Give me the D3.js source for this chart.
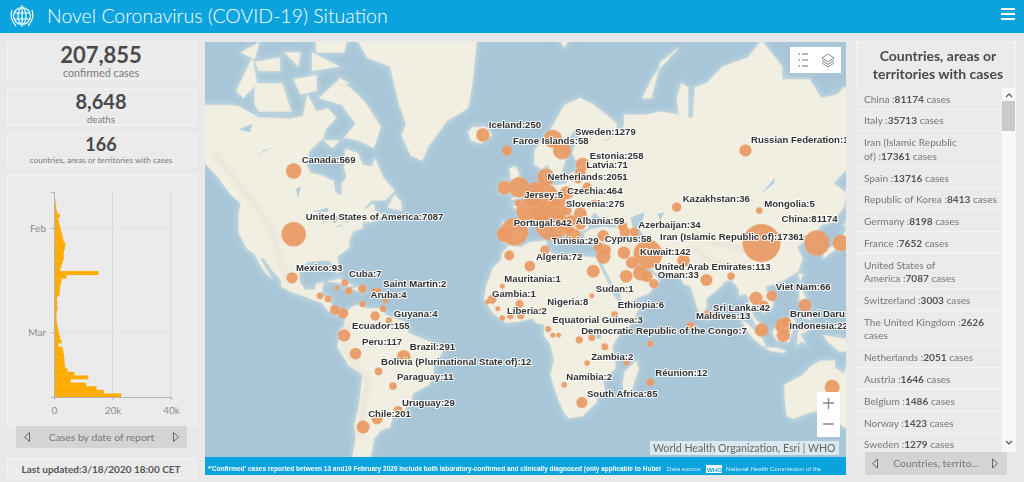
<!DOCTYPE html>
<html>
<head>
<meta charset="utf-8">
<title>Novel Coronavirus (COVID-19) Situation</title>
<script src="https://cdnjs.cloudflare.com/ajax/libs/d3/7.8.5/d3.min.js"></script>
<style>
  html, body { margin: 0; padding: 0; background: #e9e9e9; overflow: hidden; }
  svg { display: block; font-family: Lato, "Open Sans", sans-serif; }
  .mapLabel { font-family: "Liberation Sans", Arial, sans-serif; font-weight: 700; font-size: 9.6px; fill: #333;
    stroke: #fff; stroke-opacity: .85; stroke-width: 2.2px; paint-order: stroke; stroke-linejoin: round; }
</style>
</head>
<body>
<div id="app"></div>
<script>
const pageTitle = 'Novel Coronavirus (COVID-19) Situation'
const summaryValues = ['207,855', '8,648', '166']
const summaryLabels = ['confirmed cases', 'deaths', 'countries, areas or territories with cases']

// new cases per day of report, 22 Jan to 18 Mar 2020
const firstReportDay = new Date(2020, 0, 22)
const dailyCases = [
  300, 300, 500, 700, 800, 1100, 2000, 1500, 1700, 2000,
  2400, 2700, 3000, 3300, 3900, 3700, 3400, 3300, 3300, 2900, 2600, 2100, 15200, 4300, 2600, 2300, 2100, 2000, 1800,
  1000, 1100, 1100, 1200, 900, 800, 900, 1100, 1300, 1500,
  1800, 2100, 2600, 1500, 3000, 3200, 3400, 3600, 3600, 3800, 4600, 7000, 11700, 5800, 11000, 14500, 17000, 23000
]
const caseTicks = [0, 20000, 40000]

// [name, cases, lon, lat] for countries with a label on the map
const labelledCountries = [
  ['Iceland', 250, -17.5, 65], ['Sweden', 1279, 17, 62], ['Faroe Islands', 58, -7, 62],
  ['Russian Federation', 147, 97, 62], ['Estonia', 258, 26, 59], ['Latvia', 71, 25, 57],
  ['Netherlands', 2051, 5.5, 52.3], ['Canada', 569, -100, 57.5], ['United States of America', 7087, -100, 39.5],
  ['Jersey', 5, -2.1, 49.2], ['Czechia', 464, 15.3, 49.8], ['Slovenia', 275, 14.8, 46.1],
  ['Portugal', 642, -8, 39.5], ['Albania', 59, 20, 41], ['Azerbaijan', 34, 48.5, 40.2],
  ['Cyprus', 58, 33, 35], ['Iran (Islamic Republic of)', 17361, 54.5, 32.5], ['Tunisia', 29, 9.5, 34],
  ['Kazakhstan', 36, 67, 48], ['Mongolia', 5, 103, 47], ['China', 81174, 104, 36.5],
  ['Kuwait', 142, 47.5, 29.3], ['Algeria', 72, 3, 28], ['United Arab Emirates', 113, 54, 24],
  ['Oman', 33, 57, 21], ['Mexico', 93, -100.7, 23.4], ['Cuba', 7, -77.6, 21.4],
  ['Saint Martin', 2, -63, 18], ['Aruba', 4, -70, 12.5], ['Guyana', 4, -58.5, 5.5],
  ['Ecuador', 155, -78, -1], ['Peru', 117, -73, -9], ['Brazil', 291, -52, -10.4],
  ['Bolivia (Plurinational State of)', 12, -63, -16.5], ['Paraguay', 11, -56.7, -22.5], ['Uruguay', 29, -54.5, -32],
  ['Chile', 201, -69.7, -37.9], ['Mauritania', 1, -9, 20], ['Gambia', 1, -15.5, 13.4],
  ['Liberia', 2, -9, 6.5], ['Sudan', 1, 30, 16], ['Nigeria', 8, 8, 9.5],
  ['Ethiopia', 6, 40, 8], ['Equatorial Guinea', 3, 11, 1.7], ['Democratic Republic of the Congo', 7, 24.5, -3],
  ['Maldives', 13, 73, 3.2], ['Sri Lanka', 42, 80.7, 7.7], ['Viet Nam', 66, 108.5, 16],
  ['Brunei Darussalam', 68, 114.7, 4.5], ['Indonesia', 227, 113.5, -1], ['Zambia', 2, 28, -13],
  ['Namibia', 2, 18, -22], ['Réunion', 12, 55.5, -21], ['South Africa', 85, 25.7, -29]
]

// label offset from its bubble, [dx, dy]
const labelOffsets = {
  'Iceland': [6, -10], 'Sweden': [13, -19], 'Faroe Islands': [6, -10], 'Russian Federation': [5.5, -11],
  'Estonia': [7, -9], 'Latvia': [6, -8], 'Netherlands': [12, -15], 'Canada': [8, -11],
  'United States of America': [12, -18], 'Jersey': [6, -8], 'Czechia': [9, -10], 'Slovenia': [9, -10],
  'Portugal': [9, -12], 'Albania': [7, -9], 'Azerbaijan': [4, -8], 'Cyprus': [6, -9],
  'Iran (Islamic Republic of)': [12, -17], 'Tunisia': [7, -9], 'Kazakhstan': [6, -9], 'Mongolia': [5, -7],
  'China': [20, -24], 'Kuwait': [8, -11], 'Algeria': [6, -9], 'United Arab Emirates': [8, -10],
  'Oman': [4, -9], 'Mexico': [4, -10], 'Cuba': [4, -9], 'Saint Martin': [4.5, -7],
  'Aruba': [8, -9], 'Guyana': [5, -7], 'Ecuador': [8, -10], 'Peru': [6.5, -12],
  'Brazil': [6, -10], 'Bolivia (Plurinational State of)': [2.5, -9.5], 'Paraguay': [4, -9], 'Uruguay': [4, -7.5],
  'Chile': [5, -13], 'Mauritania': [2, -8], 'Gambia': [4.6, -8], 'Liberia': [4.6, -7],
  'Sudan': [4, -7], 'Nigeria': [6, -9], 'Ethiopia': [3, -10], 'Equatorial Guinea': [4, -9],
  'Democratic Republic of the Congo': [2, -9], 'Maldives': [5.5, -10], 'Sri Lanka': [5, -8], 'Viet Nam': [4, -9],
  'Brunei Darussalam': [4, -9], 'Indonesia': [6, -10], 'Zambia': [4, -6], 'Namibia': [2, -8.5],
  'Réunion': [5, -10], 'South Africa': [5, -9]
}

// bubbles with no label, cases
const otherCountries = [
  ['Italy', 35713, 12.5, 42.8], ['Spain', 13716, -3.7, 40.3], ['Republic of Korea', 8413, 128.2, 36.5],
  ['Germany', 8198, 10, 51], ['France', 7652, 2.5, 47], ['Switzerland', 3003, 8, 47],
  ['The United Kingdom', 2626, -1.7, 53.5], ['Austria', 1646, 14, 47.5], ['Belgium', 1486, 4.5, 50.6],
  ['Norway', 1423, 13, 64.3], ['Denmark', 1057, 10, 56], ['Japan', 829, 138.6, 36.5],
  ['Malaysia', 673, 113.5, 3], ['Qatar', 442, 51.2, 25.3], ['Australia', 452, 134.8, -23],
  ['Greece', 387, 22, 39], ['Israel', 337, 35, 31.5], ['Ireland', 292, -8, 53.4],
  ['Poland', 238, 19, 52], ['Thailand', 212, 101.6, 15], ['Romania', 217, 25, 46],
  ['Saudi Arabia', 171, 45, 24], ['India', 137, 80, 22.5], ['Singapore', 266, 104, 1.3],
  ['Philippines', 202, 123, 12], ['Egypt', 196, 30.6, 26], ['Iraq', 164, 44, 33],
  ['Lebanon', 120, 35.8, 33.9], ['Turkey', 98, 35, 39], ['Pakistan', 183, 70, 30],
  ['Morocco', 44, -6, 32], ['Hungary', 50, 19, 47], ['Croatia', 57, 16, 45.5],
  ['Serbia', 72, 21, 44], ['Bulgaria', 67, 25, 42.7], ['Armenia', 78, 44.5, 40.2],
  ['Georgia', 34, 43.5, 42], ['Belarus', 36, 28, 53.5], ['Ukraine', 14, 31, 49],
  ['Lithuania', 17, 24, 55.5], ['Cambodia', 33, 105, 12], ['Bangladesh', 10, 90.7, 24],
  ['Senegal', 27, -13.5, 14.5], ['Burkina Faso', 15, -1.5, 12.5], ['Guinea', 1, -11, 10.5],
  ['Côte d\'Ivoire', 6, -5.5, 7.5], ['Ghana', 7, -1, 7.5], ['Gabon', 1, 13, -1],
  ['Congo', 1, 15.5, -1], ['Rwanda', 7, 30, -2], ['United Republic of Tanzania', 6, 35.7, -6],
  ['Seychelles', 4, 55.5, -4.7], ['Mayotte', 3, 45, -12.8], ['Argentina', 79, -63.6, -35],
  ['Venezuela', 33, -64.5, 7.4], ['Panama', 69, -78.5, 8.6], ['Costa Rica', 50, -82, 10],
  ['Honduras', 6, -85, 14.7], ['Guatemala', 6, -88.5, 16], ['Cayman Islands', 1, -81.2, 19.3],
  ['Jamaica', 10, -76, 18], ['Dominican Republic', 21, -70, 19], ['Antigua and Barbuda', 1, -65, 18.3],
  ['Trinidad and Tobago', 5, -61, 10.5], ['Barbados', 2, -60, 14]
]

// side list
const listNames = ['China', 'Italy', 'Iran (Islamic Republic of)', 'Spain', 'Republic of Korea', 'Germany', 'France',
  'United States of America', 'Switzerland', 'The United Kingdom', 'Netherlands', 'Austria', 'Belgium', 'Norway', 'Sweden']
const listCases = [81174, 35713, 17361, 13716, 8413, 8198, 7652, 7087, 3003, 2626, 2051, 1646, 1486, 1423, 1279]
// how many words stay on the first line of a wrapped row
const listWraps = { 'Iran (Islamic Republic of)': 3, 'United States of America': 3, 'The United Kingdom': 4 }

// rough coastlines, [lon, lat]
const landShapes = [
  // north america
  [[-170,65],[-166,68],[-156,71],[-141,70],[-128,70],[-124,69.8],[-115,68],[-108,68],[-102,67.8],[-96,68.3],[-94,71.5],[-90,69],[-85,69.5],[-81.5,68],[-86,66],[-87,64.5],[-93,62],[-94.5,59],[-92.5,57],[-88,56.5],[-82.5,55],[-82,52.5],[-80,51.3],[-79,52],[-79,54.5],[-77,56],[-78,58.5],[-77.5,62.3],[-72,61.5],[-70,59],[-66,58.5],[-64.5,60.3],[-61,56],[-56,52.5],[-60,50],[-66,50],[-70,47],[-65,49],[-64.5,47],[-61,45.5],[-66,43.5],[-70,43.5],[-70,41.5],[-74,40.5],[-76,37],[-75.5,35],[-81,31.5],[-80,26],[-81,25],[-82.7,28],[-84,30],[-89,30],[-94,29.5],[-97.5,27],[-97.5,22],[-95,18.5],[-91,18.5],[-90,21],[-87,21.5],[-88,16],[-84,15.5],[-83.5,11],[-81.5,9],[-79.5,9.5],[-77.5,8.5],[-78,7.5],[-80,7.5],[-83,8.5],[-85.5,10],[-87.5,13],[-92,14.5],[-96,16],[-101,17.5],[-105.5,20],[-105.5,22.5],[-109,26],[-113,31],[-114.7,31],[-112,27],[-109.5,23],[-112,25],[-115,29],[-117,32.5],[-120.5,34.5],[-124,40],[-124,46],[-123,49],[-128,52],[-133,56],[-139,59.5],[-146,60.5],[-152,59],[-158,56.5],[-165,54.5],[-158,58.5],[-165,61],[-165,64]],
  // arctic islands
  [[-80,73.5],[-72,71.5],[-68,70],[-62,66.5],[-65,62.5],[-72,64],[-78,64.5],[-73,67],[-79,70],[-89,71]],
  [[-117,73],[-105,73],[-101,69],[-115,69],[-117,70]],
  [[-125,72],[-118,76],[-116,73],[-122,71]],
  [[-90,76.5],[-78,76.5],[-75,79],[-62,82.5],[-75,83],[-92,81.5]],
  [[-92,76.5],[-80,75],[-92,74.5]],
  [[-117,75.5],[-106,76],[-106,74.5],[-115,74.5]],
  [[-100,73.5],[-90,74],[-90,72],[-97,71.5]],
  [[-87,64],[-80,64],[-83,62.5]],
  [[-123,76.5],[-115,77.5],[-117,75.8]],
  [[-104,76.5],[-97,76.5],[-98,75]],
  [[-96,79.5],[-88,81],[-86,78.5],[-92,78]],
  [[-80,73.7],[-76,73],[-80,72.7]],
  [[-59,47.8],[-53,47],[-53,49.5],[-56,51.5]],
  // greenland, iceland
  [[-73,78],[-68,76],[-58,75],[-54,70],[-51,67],[-53,65],[-49,61],[-44,59.8],[-41,63],[-33,67.5],[-24,69.5],[-22,73],[-20,78],[-17,80],[-30,83.5],[-50,82.5],[-63,81.5]],
  [[-24,65.5],[-22,66.4],[-16,66.5],[-13.5,65],[-18,63.4],[-22.5,63.9]],
  // britain, ireland
  [[-5.5,50],[1,51],[1.7,52.7],[0,53.5],[-1.5,55],[-2,57.5],[-3.5,58.6],[-6,58],[-5,55],[-3,54],[-4.5,53],[-5,51.7],[-3,51.3]],
  [[-10,52],[-6,52.2],[-6,54.5],[-8,55.3],[-10,54]],
  // eurasia
  [[-9,37],[-9.5,39],[-9,43.5],[-2,43.4],[-1,46],[-4.5,48.3],[-1.5,48.8],[2,51],[4,52],[7,53.5],[8.5,55],[8,57],[10.5,57.5],[10,54.5],[14,54],[19,54.5],[21,57],[24,57.5],[23.5,59.3],[30,60],[23,60],[21.5,61.5],[25,65.5],[22,65.8],[17.5,62],[18.5,60],[16.5,56.5],[14,55.5],[12.5,56.5],[11,59],[8,58],[5,59],[5,62],[12,66],[18,70],[25,71],[31,70],[41,67],[40,65],[35,64],[37,64],[44,66.5],[44,68.5],[54,68.5],[60,69],[68,68.5],[67,71],[69,73],[72,72.5],[72,68],[74,68],[75,72.5],[80,73],[87,75],[98,76],[104,77.7],[113,75],[113,73.5],[125,73.5],[130,71],[137,71.5],[140,72.5],[150,71],[160,70],[180,69],[180,62],[170,60],[163,58],[162,55],[156.5,51],[156,57],[163,62],[155,59],[143,59],[135.5,54.5],[141,52],[140,48],[135,43.5],[130,42.5],[127.5,40],[129.5,37],[129,35],[126.5,34.5],[126.5,37.5],[125,39.5],[121.5,39],[118,39],[119,37.5],[122.5,37],[119.5,35],[122,31],[120,26],[114,22.5],[110,21],[106,20],[106,18.5],[109,13],[109,11.5],[105,8.8],[105,10.5],[102.5,12],[100.5,13.5],[99.5,10.5],[100.5,7],[103.5,4],[104,1.5],[101.5,2.8],[100.3,6],[98.3,8],[98.5,15],[97,17],[94.5,16],[94,19],[91,22.5],[88,22],[86.5,20],[82,16.5],[80,15],[80,11],[77.5,8],[76,11],[73,20],[70,21],[69,23],[66.5,25.3],[61,25],[57.5,25.5],[56,27],[51,28.5],[48.5,30],[50,26.5],[51.5,25],[54,24],[56,25.5],[59.5,22.5],[55,17],[52,16],[45,12.8],[43.2,13],[42.5,16.5],[39,21],[35,28],[34.7,29.5],[35,31.5],[36,36.5],[31,36.5],[27.5,37],[26.5,39.5],[29,41],[35,42],[41.5,41.5],[37,45],[33.5,45],[31,46.5],[28,43],[28.5,41.5],[26,40.7],[23,40.5],[24,38],[22.5,36.5],[20,39.5],[19,42],[14,45.5],[12.3,45],[13,43.5],[18.5,40],[16,38],[15.5,40],[12,42],[9,44.3],[3.5,43.3],[0,39.5],[-2,36.8],[-5.5,36]],
  // africa
  [[-6,35.8],[-1,35],[3,36.8],[10,37.3],[11,33.5],[15,32.3],[19,30.3],[20,32.7],[25,31.7],[32,31.2],[34.5,31.2],[32.7,29.5],[34,27],[37.3,21],[37.5,18.5],[43,12],[44.5,10.5],[51,12],[48,5],[41,-2],[39,-6],[40.5,-15],[35,-20],[35.5,-24],[32.8,-26],[32,-29],[26,-34],[20,-34.8],[18,-33],[15,-27],[12,-18],[13.5,-12],[12,-5],[9,-1],[9.5,3.5],[6,4.3],[4,6.3],[-2,5],[-7.5,4.5],[-13,8.5],[-17,14.5],[-16,20],[-13,27.5],[-9.7,30],[-9,33]],
  // south america
  [[-77.5,8.5],[-75,11],[-71.5,12.3],[-68,10.7],[-62,10.7],[-60,8],[-52,5],[-50,0],[-44,-2.5],[-37,-5],[-35,-8],[-39,-14],[-39,-18],[-41,-22],[-48,-25.5],[-48.5,-28],[-53.5,-34],[-57,-34.5],[-58,-38],[-62,-39],[-65,-42],[-66,-46],[-68,-50],[-69,-52.5],[-65,-55],[-72,-54],[-75,-50],[-73,-42],[-73.5,-37],[-71.5,-30],[-70,-18],[-76,-14],[-81,-6],[-80,-2.5],[-80,1],[-78,3],[-77.5,7]],
  // caribbean
  [[-85,22],[-80,23],[-74,20.2],[-77.5,19.9],[-78,21]],
  [[-74.5,19],[-71,20],[-68.5,18.5],[-71.5,17.8]],
  // islands of the old world
  [[49.3,-12],[50.5,-15.5],[47,-25],[44,-25],[43.5,-21],[44.5,-16.5]],
  [[80,9.7],[82,7.5],[80.6,6],[79.8,8]],
  [[130.9,34],[136,35.6],[139.5,38.5],[141,41.4],[142,39.5],[140.8,35.7],[136.8,34.4],[135,33.5],[131,31]],
  [[140,42],[141.7,45.5],[145,43.5],[143,42]],
  [[142,46],[142,54],[143.5,50]],
  [[120,25],[122,25],[121,22]],
  [[95.5,5.5],[98,4],[104,-2],[106,-5.8],[104,-5.5],[100,-2],[97,2]],
  [[105.5,-6.3],[111,-6.5],[114.5,-7.7],[114,-8.6],[108,-7.8]],
  [[109,1.5],[113,3],[117,7],[119,5],[117.5,1],[116,-4],[110.5,-3],[109,-.5]],
  [[119.5,-5.5],[120,1],[125,1.5],[121,-.5],[123,-4.5],[121,-3.5]],
  [[120.5,18.5],[122,18],[124,13],[120.5,14]],
  [[122,7],[125.5,9.5],[126.5,7],[125,5.8]],
  [[131,-1],[141,-2.6],[147,-6],[150,-10.5],[144,-8],[138,-8],[133,-4]],
  [[114,-22],[122,-18],[126,-14],[130,-12],[136,-12],[136,-15],[140,-17.5],[142,-11],[145,-15],[149,-21],[153,-26],[153,-31],[150,-37],[146,-39],[140,-38],[135,-34.5],[131,-31.5],[124,-33],[118,-35],[115,-34],[114,-26]],
  [[12,79],[20,80.3],[27,80],[18,77]],
  [[52,71],[57,74],[68,77],[60,75.5],[56,71]],
  [[95,79],[105,79],[100,81]],
  [[12.5,38],[15.5,38.2],[15,36.7]],
  [[8.3,41],[9.7,41],[9.5,39],[8.5,39]]
]
const inlandWater = [
  [[47,45],[53,46.5],[51,41],[54,37],[50,37],[48,41]],
  [[-92,46.7],[-85,47.8],[-85,46.6]],
  [[-87.5,42],[-85,45.8],[-86.5,45.5]],
  [[-84,46],[-80,45],[-82,43],[-83.5,44]],
  [[-83,41.7],[-79,42.8],[-79,42.3]],
  [[-79.5,43.3],[-76,44],[-76.5,43.4]],
  [[-124,66],[-118,67],[-119,65.5]],
  [[-116,61],[-109,62.7],[-113,62]],
  [[-98,50.5],[-97,53.8],[-99,53]],
  [[32,0],[34,0],[34,-2.5],[32,-2.5]],
  [[104,51.7],[109.7,55.8],[109.5,54.5]],
  [[58.5,46],[61.5,46.5],[60,44]]
]
const ridgeLines = [
  [[-135,62],[-125,55],[-115,47],[-108,38],[-106,30],[-102,22]],
  [[-75,6],[-78,-3],[-74,-13],[-68,-20],[-70,-32],[-72,-42]],
  [[73,36],[82,30],[92,28],[98,28]],
  [[80,37],[92,35],[102,34]],
  [[6,46],[14,47]],
  [[45,37],[52,33],[58,29]]
]

const width = 1024
const height = 482
const svg = d3.select('#app').append('svg')
  .attr('width', width)
  .attr('height', height)
  .style('background', '#e9e9e9')

const defs = svg.append('defs')
defs.append('clipPath').attr('id', 'mapClip').append('rect')
  .attr('x', 205).attr('y', 42).attr('width', 641).attr('height', 416)
defs.append('clipPath').attr('id', 'listClip').append('rect')
  .attr('x', 856).attr('y', 88).attr('width', 146).attr('height', 364)
defs.append('filter').attr('id', 'soft').append('feGaussianBlur').attr('stdDeviation', 0.5)
defs.append('filter').attr('id', 'shelf').append('feGaussianBlur').attr('stdDeviation', 2.5)
defs.append('filter').attr('id', 'ridge').append('feGaussianBlur').attr('stdDeviation', 2)

// header
svg.append('rect').attr('width', width).attr('height', 33).attr('fill', '#0ba3de')
const logo = svg.append('g').attr('transform', 'translate(22,16)')
  .attr('fill', 'none').attr('stroke', '#fff').attr('stroke-width', 1.2)
logo.append('circle').attr('r', 8.5)
logo.append('ellipse').attr('rx', 4).attr('ry', 8.5)
logo.append('path').attr('d', 'M-8,-3H8M-8,3H8M0,-11V11M-10,-6Q-13,2 -6,10M10,-6Q13,2 6,10')
svg.append('text').attr('x', 47).attr('y', 23)
  .attr('font-size', 19.5).attr('font-weight', 300).attr('fill', '#fff').text(pageTitle)
svg.append('path').attr('d', 'M1001,9H1015M1001,14H1015M1001,19H1015')
  .attr('stroke', '#fff').attr('stroke-width', 1.8)

function panel (x, y, w, h) {
  svg.append('rect').attr('x', x).attr('y', y).attr('width', w).attr('height', h)
    .attr('fill', '#ebebeb').attr('stroke', '#f5f5f5').attr('stroke-width', 1)
}

// summary boxes
const summaryBoxes = [[42, 38, 55, 22, 74, 10.8], [89, 36, 102, 20, 120, 9.6], [134, 32, 145, 18, 160, 8.2]]
summaryBoxes.forEach((b, i) => {
  panel(7.5, b[0], 188, b[1])
  svg.append('text').attr('x', 101).attr('y', b[2] + b[3] * 0.36).attr('text-anchor', 'middle')
    .attr('font-size', b[3]).attr('font-weight', 700).attr('fill', '#4a4a4a').text(summaryValues[i])
  svg.append('text').attr('x', 101).attr('y', b[4] + 3).attr('text-anchor', 'middle')
    .attr('font-size', b[5]).attr('fill', '#7c7c7c').text(summaryLabels[i])
})

// epidemic curve
panel(7.5, 175, 188, 251)
const dayEnd = d => d3.timeDay.offset(d, 1)
const reportDays = dailyCases.map((_, i) => d3.timeDay.offset(firstReportDay, i))
const x = d3.scaleLinear().domain([0, 40000]).range([54, 171])
const y = d3.scaleTime().domain([firstReportDay, new Date(2020, 2, 19)]).range([192, 397])
const chart = svg.append('g')

chart.selectAll('line.gridV').data(caseTicks.slice(1)).enter().append('line')
  .attr('class', 'gridV')
  .attr('x1', d => x(d)).attr('x2', d => x(d)).attr('y1', 192).attr('y2', 397)
  .attr('stroke', '#d9d9d9')
const monthTicks = [new Date(2020, 1, 1), new Date(2020, 2, 1)]
chart.selectAll('line.gridH').data(monthTicks).enter().append('line')
  .attr('class', 'gridH')
  .attr('x1', 54).attr('x2', 171).attr('y1', d => y(d)).attr('y2', d => y(d))
  .attr('stroke', '#e2e2e2')

chart.selectAll('rect.bar').data(dailyCases).enter().append('rect')
  .attr('class', 'bar')
  .attr('x', x(0))
  .attr('y', (d, i) => y(reportDays[i]))
  .attr('width', d => x(d) - x(0))
  .attr('height', (d, i) => y(dayEnd(reportDays[i])) - y(reportDays[i]) + 0.3)
  .attr('fill', '#ffab00')

const xAxis = d3.axisBottom(x).tickValues(caseTicks).tickFormat(d => d === 0 ? '0' : d3.format('~s')(d)).tickSize(3)
const yAxis = d3.axisLeft(y).tickValues(monthTicks).tickFormat(d3.timeFormat('%b')).tickSize(3)
const styleAxis = g => {
  g.selectAll('.domain').attr('stroke', '#b5b5b5')
  g.selectAll('.tick line').attr('stroke', '#b5b5b5')
  g.selectAll('text').attr('fill', '#8e8e8e').attr('font-size', 10).attr('font-family', 'Lato')
}
chart.append('g').attr('transform', 'translate(0,397)').call(xAxis).call(styleAxis)
  .selectAll('text').attr('dy', '1.05em')
chart.append('g').attr('transform', 'translate(54,0)').call(yAxis).call(styleAxis)
  .selectAll('text').attr('dx', '-.2em')

function navButton (bx, by, bw, bh, label, arrowL, arrowR, fs) {
  svg.append('rect').attr('x', bx).attr('y', by).attr('width', bw).attr('height', bh).attr('fill', '#d4d4d4')
  svg.append('text').attr('x', bx + bw / 2).attr('y', by + bh / 2 + 3.5).attr('text-anchor', 'middle')
    .attr('font-size', fs).attr('fill', '#787878').text(label)
  const cy = by + bh / 2
  svg.append('path')
    .attr('d', `M${arrowL + 2.5},${cy - 4.5}L${arrowL - 2.5},${cy}L${arrowL + 2.5},${cy + 4.5}ZM${arrowR - 2.5},${cy - 4.5}L${arrowR + 2.5},${cy}L${arrowR - 2.5},${cy + 4.5}Z`)
    .attr('fill', 'none').attr('stroke', '#666').attr('stroke-width', 1)
}
navButton(16, 426, 171, 22, 'Cases by date of report', 27, 176, 10.4)

panel(7.5, 459, 188, 19)
svg.append('text').attr('x', 101).attr('y', 473).attr('text-anchor', 'middle')
  .attr('font-size', 10).attr('font-weight', 700).attr('fill', '#555')
  .text('Last updated:3/18/2020 18:00 CET')

// map
const projection = d3.geoMercator().scale(131.4).translate([523, 333])
const ringPath = d3.line().x(d => projection(d)[0]).y(d => projection(d)[1]).curve(d3.curveLinearClosed)
const mapG = svg.append('g').attr('clip-path', 'url(#mapClip)')
mapG.append('rect').attr('x', 205).attr('y', 42).attr('width', 641).attr('height', 416).attr('fill', '#a8c6d7')

const basemap = mapG.append('g')
basemap.append('g').attr('filter', 'url(#shelf)').selectAll('path').data(landShapes).enter().append('path')
  .attr('d', ringPath).attr('fill', '#bdd4df').attr('stroke', '#bdd4df').attr('stroke-width', 5)
const landG = basemap.append('g').attr('filter', 'url(#soft)')
landG.selectAll('path.land').data(landShapes).enter().append('path')
  .attr('class', 'land').attr('d', ringPath).attr('fill', '#f1eee2').attr('stroke', '#e9e5d6').attr('stroke-width', 0.6)
landG.selectAll('path.water').data(inlandWater).enter().append('path')
  .attr('class', 'water').attr('d', ringPath).attr('fill', '#b4cfdc')
basemap.append('g').attr('filter', 'url(#ridge)').selectAll('path').data(ridgeLines).enter().append('path')
  .attr('d', d3.line().x(d => projection(d)[0]).y(d => projection(d)[1]).curve(d3.curveCatmullRom))
  .attr('fill', 'none').attr('stroke', '#dcd8c8').attr('stroke-width', 4).attr('opacity', 0.4)

const radius = d3.scalePow().exponent(0.18).domain([0, 81174]).range([0, 19])
const allCountries = otherCountries.concat(labelledCountries)
  .slice().sort((a, b) => b[1] - a[1])

mapG.append('g').selectAll('circle').data(allCountries).enter().append('circle')
  .attr('cx', d => projection([d[2], d[3]])[0])
  .attr('cy', d => projection([d[2], d[3]])[1])
  .attr('r', d => radius(d[1]))
  .attr('fill', '#e89a63')
  .attr('fill-opacity', 0.93)
  .attr('stroke', '#f2c3a0')
  .attr('stroke-opacity', 0.5)
  .attr('stroke-width', 0.6)

mapG.append('g').selectAll('text').data(labelledCountries).enter().append('text')
  .attr('class', 'mapLabel')
  .attr('x', d => projection([d[2], d[3]])[0] + labelOffsets[d[0]][0])
  .attr('y', d => projection([d[2], d[3]])[1] + labelOffsets[d[0]][1])
  .attr('dy', '.35em')
  .text(d => `${d[0]}:${d[1]}`)

// map widgets
svg.append('rect').attr('x', 790).attr('y', 47).attr('width', 51).attr('height', 26).attr('fill', '#fff')
svg.append('path')
  .attr('d', 'M802,54H808M802,60H808M802,66H808M798,54H800M798,60H800M798,66H800')
  .attr('stroke', '#777').attr('stroke-width', 1.2)
svg.append('path')
  .attr('d', 'M828,54L834,58L828,62L822,58ZM822,60.5L828,64.5L834,60.5M822,63L828,67L834,63')
  .attr('fill', 'none').attr('stroke', '#777').attr('stroke-width', 0.9)
svg.append('rect').attr('x', 817).attr('y', 392).attr('width', 23).attr('height', 45).attr('fill', '#fff')
svg.append('path').attr('d', 'M823,403H834M828.5,398V409M823,424H834').attr('stroke', '#888').attr('stroke-width', 1.4)
svg.append('rect').attr('x', 650).attr('y', 441).attr('width', 189).attr('height', 14).attr('fill', '#fff').attr('opacity', 0.6)
svg.append('text').attr('x', 653).attr('y', 452).attr('font-size', 10.6).attr('fill', '#666')
  .text('World Health Organization, Esri | WHO')

// note strip under the map
svg.append('rect').attr('x', 205).attr('y', 457).attr('width', 641).attr('height', 18).attr('fill', '#0ba3de')
svg.append('text').attr('x', 208).attr('y', 471).attr('font-size', 6.5).attr('font-family', 'Liberation Sans').attr('fill', '#fff')
  .attr('font-weight', 700)
  .text('*\'Confirmed\' cases reported between 13 and19 February 2020 include both laboratory-confirmed and clinically diagnosed (only  applicable to Hubei')
svg.append('text').attr('x', 667).attr('y', 471).attr('font-size', 6.2).attr('font-family', 'Liberation Sans').attr('fill', '#d8f0fa').text('Data source:')
svg.append('rect').attr('x', 706).attr('y', 465).attr('width', 16).attr('height', 8).attr('fill', '#fff')
svg.append('text').attr('x', 707).attr('y', 471.5).attr('font-size', 6.2).attr('font-weight', 700).attr('font-family', 'Liberation Sans').attr('fill', '#0ba3de').text('WHO')
svg.append('text').attr('x', 726).attr('y', 471).attr('font-size', 6.2).attr('font-family', 'Liberation Sans').attr('fill', '#d8f0fa').text('National Health Commission of the')

// right column
panel(856.5, 42, 159, 410)
svg.append('text').attr('x', 938).attr('y', 61).attr('text-anchor', 'middle').attr('font-size', 14).attr('font-weight', 700).attr('fill', '#4a4a4a').text('Countries, areas or')
svg.append('text').attr('x', 938).attr('y', 79).attr('text-anchor', 'middle').attr('font-size', 14).attr('font-weight', 700).attr('fill', '#4a4a4a').text('territories with cases')

const listG = svg.append('g').attr('clip-path', 'url(#listClip)')
let rowTop = 88
listNames.forEach((name, i) => {
  const words = name.split(' ').concat([`:${listCases[i]}`, 'cases'])
  const keep = listWraps[name] || words.length
  const rowH = listWraps[name] ? 35.3 : 21.8
  listG.append('rect').attr('x', 856).attr('y', rowTop).attr('width', 146).attr('height', rowH - 1.2).attr('fill', '#ebebeb')
  listG.append('rect').attr('x', 856).attr('y', rowTop + rowH - 1.2).attr('width', 146).attr('height', 1.2).attr('fill', '#f6f6f6')
  const lines = [words.slice(0, keep), words.slice(keep)].filter(l => l.length)
  lines.forEach((line, k) => {
    const t = listG.append('text').attr('x', 864).attr('y', rowTop + 14.6 + k * 13.6).attr('font-size', 10.1).attr('fill', '#777')
    line.forEach((w, j) => {
      const sep = j ? ' ' : ''
      if (w[0] === ':') {
        t.append('tspan').text(sep + ':')
        t.append('tspan').attr('font-weight', 700).attr('fill', '#555').text(w.slice(1))
      } else {
        t.append('tspan').text(sep + w)
      }
    })
  })
  rowTop += rowH
})

// scrollbar
svg.append('rect').attr('x', 1002).attr('y', 88).attr('width', 13).attr('height', 364).attr('fill', '#f8f8f8')
svg.append('rect').attr('x', 1002).attr('y', 101).attr('width', 13).attr('height', 30).attr('fill', '#c9c9c9')
svg.append('path').attr('d', 'M1006,97L1009,94L1012,97M1006,441L1009,444L1012,441').attr('fill', 'none').attr('stroke', '#555').attr('stroke-width', 1.1)

navButton(865, 452, 142, 23, 'Countries, territo...', 875, 995, 10.4)
</script>
</body>
</html>
